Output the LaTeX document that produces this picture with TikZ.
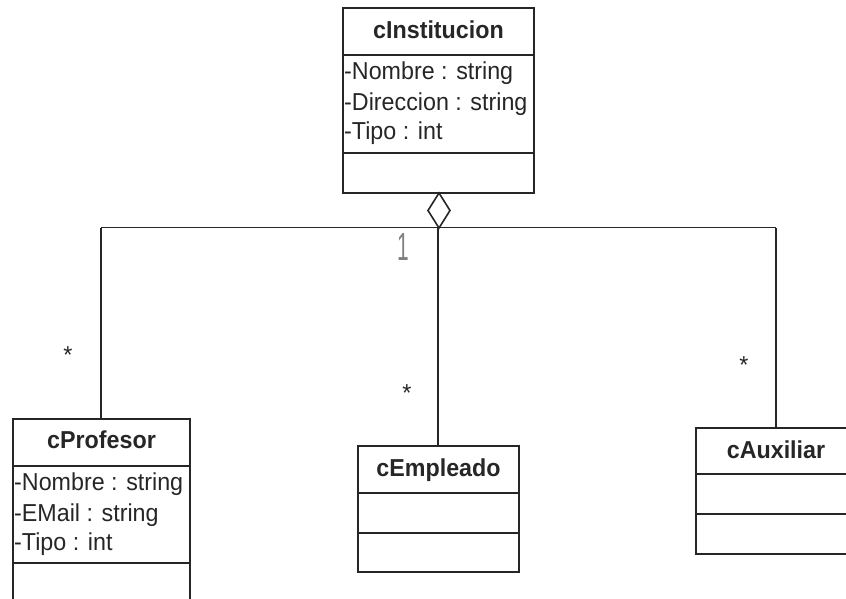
\documentclass[tikz,border=0pt]{standalone}
\usepackage{fontspec}
\setmainfont{Liberation Sans}[FakeStretch=0.95]
\begin{document}
\begin{tikzpicture}[x=1pt,y=-1pt,
  umlline/.style={draw=black!85,line width=1.6pt},
  title/.style={font=\fontsize{24.5}{26}\selectfont\bfseries,anchor=base,inner sep=0pt,text=black!85},
  attr/.style={font=\fontsize{24.5}{26}\selectfont,anchor=base west,inner sep=0pt,text=black!85},
  mult/.style={font=\fontsize{24.5}{26}\selectfont,anchor=base,inner sep=0pt,text=black!85}]
\useasboundingbox (0,0) rectangle (846,599);
\clip (0,0) rectangle (846,599);

% class cInstitucion
\draw[umlline] (343,8) rectangle (534,193);
\draw[umlline] (343,55) -- (534,55);
\draw[umlline] (343,153) -- (534,153);
\node[title] (tInst) at (438.5,38.5) {cInstitucion};
\node[attr] (aInst1) at (344,79.5) {-Nombre : string};
\node[attr] (aInst2) at (344,110.5) {-Direccion : string};
\node[attr] (aInst3) at (344,139.5) {-Tipo : int};
\coordinate (instBottom) at (439,193);

% class cProfesor
\draw[umlline] (13,419) rectangle (190,640);
\draw[umlline] (13,466) -- (190,466);
\draw[umlline] (13,563) -- (190,563);
\node[title] (tProf) at (101.5,448.5) {cProfesor};
\node[attr] (aProf1) at (14,490.5) {-Nombre : string};
\node[attr] (aProf2) at (14,521.5) {-EMail : string};
\node[attr] (aProf3) at (14,550.5) {-Tipo : int};
\coordinate (profTop) at (101,419);

% class cEmpleado
\draw[umlline] (358,446) rectangle (519,572);
\draw[umlline] (358,493) -- (519,493);
\draw[umlline] (358,533) -- (519,533);
\node[title] (tEmp) at (438.5,476) {cEmpleado};
\coordinate (empTop) at (438,446);

% class cAuxiliar
\draw[umlline] (696,428) rectangle (856,554);
\draw[umlline] (696,474) -- (856,474);
\draw[umlline] (696,514) -- (856,514);
\node[title] (tAux) at (776,458) {cAuxiliar};
\coordinate (auxTop) at (776,428);

% aggregation diamond and the tree of connectors
\draw[umlline,fill=white] (instBottom) -- ++(11,17.5) coordinate (dR) -- ++(-11,17.5) coordinate (hub) -- ++(-11,-17.5) -- cycle;
\coordinate (busL) at (101,227.5);
\coordinate (busR) at (776,227.5);
\coordinate (hubDown) at (438,227.5);
\draw[umlline] (busL) -- (busR);
\draw[umlline] (busL) -- (profTop);
\draw[umlline] (hubDown) -- (empTop);
\draw[umlline] (busR) -- (auxTop);

% multiplicities
\node[mult,text=black!50] (m1) at (403,260) {\scalebox{0.9}[1.6]{1}};
\node[mult] (mProf) at (68,363) {*};
\node[mult] (mEmp) at (407,401) {*};
\node[mult] (mAux) at (744,373) {*};
\end{tikzpicture}
\end{document}
